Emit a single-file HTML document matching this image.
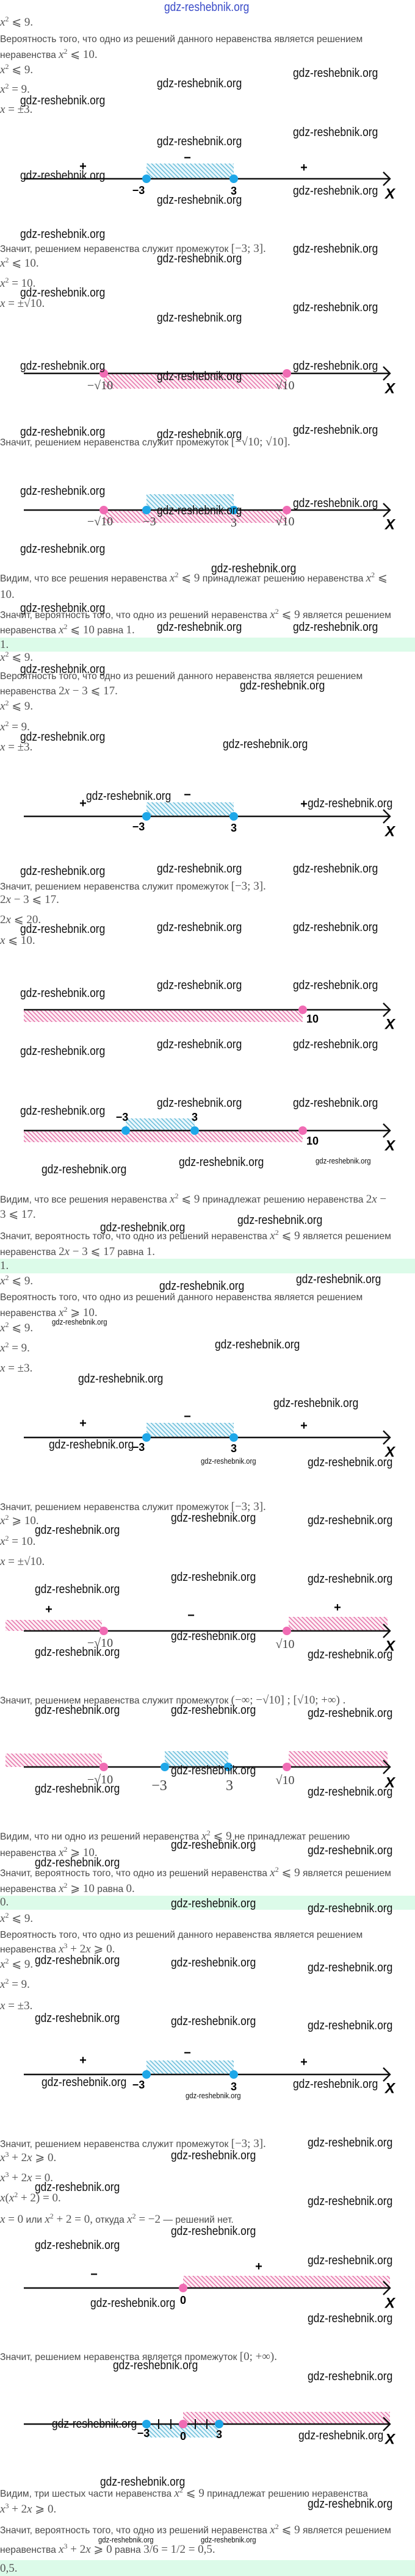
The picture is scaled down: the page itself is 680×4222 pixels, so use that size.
<!DOCTYPE html>
<html><head><meta charset="utf-8">
<style>
html,body{margin:0;padding:0;background:#fff;}
body{width:680px;height:4222px;position:relative;overflow:hidden;font-family:"Liberation Sans",sans-serif;}
.t{position:absolute;left:0;height:22px;line-height:22px;font-size:15.6px;color:#4a4a4a;white-space:nowrap;}
.m{font-family:"Liberation Serif",serif;font-size:19px;color:#555;}
.i{font-style:italic;}
sup{font-size:12px;vertical-align:7px;line-height:0;}
.band{position:absolute;left:0;width:680px;background:#dcfbe9;}
.w{position:absolute;font-size:20px;line-height:24px;height:24px;color:#111;white-space:nowrap;transform:scaleX(.87);transform-origin:left center;}
.s{font-size:13px;line-height:16px;height:16px;}
svg{position:absolute;left:0;top:0;}
</style></head><body>

<div class="band" style="top:1045px;height:23px"></div>
<div class="band" style="top:2063px;height:24px"></div>
<div class="band" style="top:3107px;height:23px"></div>
<div class="band" style="top:4196px;height:26px"></div>

<!-- text lines -->
<div class="t" style="top:26px"><span class="m"><span class="i">x</span><sup>2</sup> ⩽ 9.</span></div>
<div class="t" style="top:54px">Вероятность того, что одно из решений данного неравенства является решением</div>
<div class="t" style="top:79px">неравенства <span class="m"><span class="i">x</span><sup>2</sup> ⩽ 10.</span></div>
<div class="t" style="top:104px"><span class="m"><span class="i">x</span><sup>2</sup> ⩽ 9.</span></div>
<div class="t" style="top:136px"><span class="m"><span class="i">x</span><sup>2</sup> = 9.</span></div>
<div class="t" style="top:169px"><span class="m"><span class="i">x</span> = ±3.</span></div>
<div class="t" style="top:397px">Значит, решением неравенства служит промежуток <span class="m">[−3; 3].</span></div>
<div class="t" style="top:421px"><span class="m"><span class="i">x</span><sup>2</sup> ⩽ 10.</span></div>
<div class="t" style="top:454px"><span class="m"><span class="i">x</span><sup>2</sup> = 10.</span></div>
<div class="t" style="top:487px"><span class="m"><span class="i">x</span> = ±√10.</span></div>
<div class="t" style="top:714px">Значит, решением неравенства служит промежуток <span class="m">[−√10; √10].</span></div>
<div class="t" style="top:937px">Видим, что все решения неравенства <span class="m"><span class="i">x</span><sup>2</sup> ⩽ 9</span> принадлежат решению неравенства <span class="m"><span class="i">x</span><sup>2</sup> ⩽</span></div>
<div class="t" style="top:964px"><span class="m">10.</span></div>
<div class="t" style="top:997px">Значит, вероятность того, что одно из решений неравенства <span class="m"><span class="i">x</span><sup>2</sup> ⩽ 9</span> является решением</div>
<div class="t" style="top:1022px">неравенства <span class="m"><span class="i">x</span><sup>2</sup> ⩽ 10</span> равна <span class="m">1.</span></div>
<div class="t" style="top:1046px"><span class="m">1.</span></div>
<div class="t" style="top:1067px"><span class="m"><span class="i">x</span><sup>2</sup> ⩽ 9.</span></div>
<div class="t" style="top:1098px">Вероятность того, что одно из решений данного неравенства является решением</div>
<div class="t" style="top:1122px">неравенства <span class="m">2<span class="i">x</span> − 3 ⩽ 17.</span></div>
<div class="t" style="top:1147px"><span class="m"><span class="i">x</span><sup>2</sup> ⩽ 9.</span></div>
<div class="t" style="top:1181px"><span class="m"><span class="i">x</span><sup>2</sup> = 9.</span></div>
<div class="t" style="top:1214px"><span class="m"><span class="i">x</span> = ±3.</span></div>
<div class="t" style="top:1442px">Значит, решением неравенства служит промежуток <span class="m">[−3; 3].</span></div>
<div class="t" style="top:1464px"><span class="m">2<span class="i">x</span> − 3 ⩽ 17.</span></div>
<div class="t" style="top:1497px"><span class="m">2<span class="i">x</span> ⩽ 20.</span></div>
<div class="t" style="top:1531px"><span class="m"><span class="i">x</span> ⩽ 10.</span></div>
<div class="t" style="top:1955px">Видим, что все решения неравенства <span class="m"><span class="i">x</span><sup>2</sup> ⩽ 9</span> принадлежат решению неравенства <span class="m">2<span class="i">x</span> −</span></div>
<div class="t" style="top:1980px"><span class="m">3 ⩽ 17.</span></div>
<div class="t" style="top:2015px">Значит, вероятность того, что одно из решений неравенства <span class="m"><span class="i">x</span><sup>2</sup> ⩽ 9</span> является решением</div>
<div class="t" style="top:2041px">неравенства <span class="m">2<span class="i">x</span> − 3 ⩽ 17</span> равна <span class="m">1.</span></div>
<div class="t" style="top:2064px"><span class="m">1.</span></div>
<div class="t" style="top:2089px"><span class="m"><span class="i">x</span><sup>2</sup> ⩽ 9.</span></div>
<div class="t" style="top:2116px">Вероятность того, что одно из решений данного неравенства является решением</div>
<div class="t" style="top:2141px">неравенства <span class="m"><span class="i">x</span><sup>2</sup> ⩾ 10.</span></div>
<div class="t" style="top:2166px"><span class="m"><span class="i">x</span><sup>2</sup> ⩽ 9.</span></div>
<div class="t" style="top:2199px"><span class="m"><span class="i">x</span><sup>2</sup> = 9.</span></div>
<div class="t" style="top:2232px"><span class="m"><span class="i">x</span> = ±3.</span></div>
<div class="t" style="top:2459px">Значит, решением неравенства служит промежуток <span class="m">[−3; 3].</span></div>
<div class="t" style="top:2482px"><span class="m"><span class="i">x</span><sup>2</sup> ⩾ 10.</span></div>
<div class="t" style="top:2516px"><span class="m"><span class="i">x</span><sup>2</sup> = 10.</span></div>
<div class="t" style="top:2549px"><span class="m"><span class="i">x</span> = ±√10.</span></div>
<div class="t" style="top:2776px">Значит, решением неравенства служит промежуток <span class="m">(−∞; −√10] ; [√10; +∞) .</span></div>
<div class="t" style="top:2999px">Видим, что ни одно из решений неравенства <span class="m"><span class="i">x</span><sup>2</sup> ⩽ 9</span> не принадлежат решению</div>
<div class="t" style="top:3026px">неравенства <span class="m"><span class="i">x</span><sup>2</sup> ⩾ 10.</span></div>
<div class="t" style="top:3059px">Значит, вероятность того, что одно из решений неравенства <span class="m"><span class="i">x</span><sup>2</sup> ⩽ 9</span> является решением</div>
<div class="t" style="top:3085px">неравенства <span class="m"><span class="i">x</span><sup>2</sup> ⩾ 10</span> равна <span class="m">0.</span></div>
<div class="t" style="top:3107px"><span class="m">0.</span></div>
<div class="t" style="top:3134px"><span class="m"><span class="i">x</span><sup>2</sup> ⩽ 9.</span></div>
<div class="t" style="top:3161px">Вероятность того, что одно из решений данного неравенства является решением</div>
<div class="t" style="top:3184px">неравенства <span class="m"><span class="i">x</span><sup>3</sup> + 2<span class="i">x</span> ⩾ 0.</span></div>
<div class="t" style="top:3209px"><span class="m"><span class="i">x</span><sup>2</sup> ⩽ 9.</span></div>
<div class="t" style="top:3242px"><span class="m"><span class="i">x</span><sup>2</sup> = 9.</span></div>
<div class="t" style="top:3277px"><span class="m"><span class="i">x</span> = ±3.</span></div>
<div class="t" style="top:3503px">Значит, решением неравенства служит промежуток <span class="m">[−3; 3].</span></div>
<div class="t" style="top:3526px"><span class="m"><span class="i">x</span><sup>3</sup> + 2<span class="i">x</span> ⩾ 0.</span></div>
<div class="t" style="top:3559px"><span class="m"><span class="i">x</span><sup>3</sup> + 2<span class="i">x</span> = 0.</span></div>
<div class="t" style="top:3592px"><span class="m"><span class="i">x</span>(<span class="i">x</span><sup>2</sup> + 2) = 0.</span></div>
<div class="t" style="top:3627px"><span class="m"><span class="i">x</span> = 0</span> или <span class="m"><span class="i">x</span><sup>2</sup> + 2 = 0,</span> откуда <span class="m"><span class="i">x</span><sup>2</sup> = −2</span> — решений нет.</div>
<div class="t" style="top:3852px">Значит, решением неравенства является промежуток <span class="m">[0; +∞).</span></div>
<div class="t" style="top:4076px">Видим, три шестых части неравенства <span class="m"><span class="i">x</span><sup>2</sup> ⩽ 9</span> принадлежат решению неравенства</div>
<div class="t" style="top:4102px"><span class="m"><span class="i">x</span><sup>3</sup> + 2<span class="i">x</span> ⩾ 0.</span></div>
<div class="t" style="top:4136px">Значит, вероятность того, что одно из решений неравенства <span class="m"><span class="i">x</span><sup>2</sup> ⩽ 9</span> является решением</div>
<div class="t" style="top:4168px">неравенства <span class="m"><span class="i">x</span><sup>3</sup> + 2<span class="i">x</span> ⩾ 0</span> равна <span class="m">3/6 = 1/2 = 0,5.</span></div>
<div class="t" style="top:4199px"><span class="m">0,5.</span></div>

<!-- graphics -->
<svg width="680" height="4222" viewBox="0 0 680 4222">
<defs>
<pattern id="hb" width="5" height="5" patternUnits="userSpaceOnUse" patternTransform="rotate(-45)"><rect width="5" height="5" fill="#eaf7fc"/><line x1="1" y1="0" x2="1" y2="5" stroke="#55b4d4" stroke-width="1.3"/></pattern>
<pattern id="hp" width="5" height="5" patternUnits="userSpaceOnUse" patternTransform="rotate(-45)"><rect width="5" height="5" fill="#fdeef5"/><line x1="1" y1="0" x2="1" y2="5" stroke="#e2609d" stroke-width="1.3"/></pattern>
<g id="ax"><line x1="39" y1="0" x2="638" y2="0" stroke="#111" stroke-width="2.6"/><polyline points="628,-11 639,0 628,11" fill="none" stroke="#111" stroke-width="2.4"/></g>
</defs>
<g font-family="Liberation Sans, sans-serif" text-anchor="middle" dominant-baseline="central">
<!-- NL1 -->
<rect x="240" y="268" width="143" height="25" fill="url(#hb)"/>
<use href="#ax" y="293"/>
<circle cx="240" cy="293" r="7" fill="#1ea7e8"/><circle cx="383" cy="293" r="7" fill="#1ea7e8"/>
<text x="136" y="273" font-size="20" font-weight="bold">+</text><text x="307" y="259" font-size="20" font-weight="bold">−</text><text x="498" y="275" font-size="20" font-weight="bold">+</text>
<text x="227" y="312" font-size="18" font-weight="bold">−3</text><text x="383" y="313" font-size="18" font-weight="bold">3</text>
<text x="639" y="318" font-size="24" font-weight="bold" font-style="italic">X</text>
<!-- NL2 -->
<rect x="170" y="612" width="300" height="25" fill="url(#hp)"/>
<use href="#ax" y="612"/>
<circle cx="170" cy="612" r="7" fill="#f06cb4"/><circle cx="470" cy="612" r="7" fill="#f06cb4"/>
<text x="164" y="632" font-size="20" font-family="Liberation Serif, serif" fill="#444">−√10</text><text x="467" y="632" font-size="20" font-family="Liberation Serif, serif" fill="#444">√10</text>
<text x="639" y="637" font-size="24" font-weight="bold" font-style="italic">X</text>
<!-- NL3 -->
<rect x="240" y="810" width="143" height="26" fill="url(#hb)"/>
<rect x="170" y="836" width="300" height="21" fill="url(#hp)"/>
<use href="#ax" y="836"/>
<circle cx="170" cy="836" r="7" fill="#f06cb4"/><circle cx="470" cy="836" r="7" fill="#f06cb4"/>
<circle cx="240" cy="836" r="7" fill="#1ea7e8"/><circle cx="383" cy="836" r="7" fill="#1ea7e8"/>
<g font-size="20" font-family="Liberation Serif, serif" fill="#444"><text x="164" y="855">−√10</text><text x="245" y="855">−3</text><text x="383" y="857">3</text><text x="467" y="855">√10</text></g>
<text x="639" y="860" font-size="24" font-weight="bold" font-style="italic">X</text>
<!-- NL4 -->
<rect x="240" y="1315" width="143" height="23" fill="url(#hb)"/>
<use href="#ax" y="1338"/>
<circle cx="240" cy="1338" r="7" fill="#1ea7e8"/><circle cx="383" cy="1338" r="7" fill="#1ea7e8"/>
<text x="136" y="1317" font-size="20" font-weight="bold">+</text><text x="307" y="1303" font-size="20" font-weight="bold">−</text><text x="498" y="1318" font-size="20" font-weight="bold">+</text>
<text x="227" y="1355" font-size="18" font-weight="bold">−3</text><text x="383" y="1357" font-size="18" font-weight="bold">3</text>
<text x="639" y="1363" font-size="24" font-weight="bold" font-style="italic">X</text>
<!-- NL5 -->
<rect x="39" y="1655" width="457" height="20" fill="url(#hp)"/>
<use href="#ax" y="1655"/>
<circle cx="496" cy="1655" r="7" fill="#f06cb4"/>
<text x="512" y="1670" font-size="18" font-weight="bold">10</text>
<text x="639" y="1679" font-size="24" font-weight="bold" font-style="italic">X</text>
<!-- NL6 -->
<rect x="206" y="1833" width="113" height="20" fill="url(#hb)"/>
<rect x="39" y="1853" width="457" height="19" fill="url(#hp)"/>
<use href="#ax" y="1853"/>
<circle cx="206" cy="1853" r="7" fill="#1ea7e8"/><circle cx="319" cy="1853" r="7" fill="#1ea7e8"/><circle cx="496" cy="1853" r="7" fill="#f06cb4"/>
<text x="200" y="1831" font-size="18" font-weight="bold">−3</text><text x="319" y="1831" font-size="18" font-weight="bold">3</text>
<text x="512" y="1870" font-size="18" font-weight="bold">10</text>
<text x="639" y="1878" font-size="24" font-weight="bold" font-style="italic">X</text>
<!-- NL7 -->
<rect x="240" y="2332" width="143" height="24" fill="url(#hb)"/>
<use href="#ax" y="2356"/>
<circle cx="240" cy="2356" r="7" fill="#1ea7e8"/><circle cx="383" cy="2356" r="7" fill="#1ea7e8"/>
<text x="136" y="2333" font-size="20" font-weight="bold">+</text><text x="307" y="2322" font-size="20" font-weight="bold">−</text><text x="498" y="2337" font-size="20" font-weight="bold">+</text>
<text x="227" y="2372" font-size="18" font-weight="bold">−3</text><text x="383" y="2374" font-size="18" font-weight="bold">3</text>
<text x="639" y="2380" font-size="24" font-weight="bold" font-style="italic">X</text>
<!-- NL8 -->
<rect x="9" y="2655" width="158" height="18" fill="url(#hp)"/>
<rect x="473" y="2650" width="162" height="23" fill="url(#hp)"/>
<use href="#ax" y="2673"/>
<circle cx="170" cy="2673" r="7" fill="#f06cb4"/><circle cx="470" cy="2673" r="7" fill="#f06cb4"/>
<text x="80" y="2638" font-size="20" font-weight="bold">+</text><text x="313" y="2648" font-size="20" font-weight="bold">−</text><text x="553" y="2635" font-size="20" font-weight="bold">+</text>
<g font-size="20" font-family="Liberation Serif, serif" fill="#444"><text x="164" y="2693">−√10</text><text x="467" y="2695">√10</text></g>
<text x="639" y="2698" font-size="24" font-weight="bold" font-style="italic">X</text>
<!-- NL9 -->
<rect x="9" y="2874" width="158" height="22" fill="url(#hp)"/>
<rect x="270" y="2870" width="104" height="26" fill="url(#hb)"/>
<rect x="473" y="2870" width="162" height="26" fill="url(#hp)"/>
<use href="#ax" y="2896"/>
<circle cx="170" cy="2896" r="7" fill="#f06cb4"/><circle cx="470" cy="2896" r="7" fill="#f06cb4"/>
<circle cx="270" cy="2896" r="7" fill="#1ea7e8"/><circle cx="374" cy="2896" r="7" fill="#1ea7e8"/>
<g font-size="20" font-family="Liberation Serif, serif" fill="#444"><text x="164" y="2917">−√10</text><text x="261" y="2927" font-size="24">−3</text><text x="376" y="2927" font-size="24">3</text><text x="467" y="2918">√10</text></g>
<text x="639" y="2922" font-size="24" font-weight="bold" font-style="italic">X</text>
<!-- NL10 -->
<rect x="240" y="3377" width="143" height="23" fill="url(#hb)"/>
<use href="#ax" y="3400"/>
<circle cx="240" cy="3400" r="7" fill="#1ea7e8"/><circle cx="383" cy="3400" r="7" fill="#1ea7e8"/>
<text x="136" y="3377" font-size="20" font-weight="bold">+</text><text x="307" y="3365" font-size="20" font-weight="bold">−</text><text x="498" y="3380" font-size="20" font-weight="bold">+</text>
<text x="227" y="3417" font-size="18" font-weight="bold">−3</text><text x="383" y="3420" font-size="18" font-weight="bold">3</text>
<text x="639" y="3423" font-size="24" font-weight="bold" font-style="italic">X</text>
<!-- NL11 -->
<rect x="300" y="3730" width="339" height="20" fill="url(#hp)"/>
<use href="#ax" y="3750"/>
<circle cx="300" cy="3750" r="7" fill="#f06cb4"/>
<text x="154" y="3728" font-size="20" font-weight="bold">−</text><text x="424" y="3715" font-size="20" font-weight="bold">+</text>
<text x="300" y="3770" font-size="18" font-weight="bold">0</text>
<text x="639" y="3775" font-size="24" font-weight="bold" font-style="italic">X</text>
<!-- NL12 -->
<rect x="300" y="3953" width="339" height="20" fill="url(#hp)"/>
<rect x="240" y="3973" width="119" height="22" fill="url(#hb)"/>
<use href="#ax" y="3973"/>
<g stroke="#111" stroke-width="2"><line x1="260" y1="3965" x2="260" y2="3981"/><line x1="280" y1="3965" x2="280" y2="3981"/><line x1="320" y1="3965" x2="320" y2="3981"/><line x1="339" y1="3965" x2="339" y2="3981"/></g>
<circle cx="240" cy="3973" r="7" fill="#1ea7e8"/><circle cx="359" cy="3973" r="7" fill="#1ea7e8"/><circle cx="300" cy="3973" r="7" fill="#f06cb4"/>
<text x="235" y="3988" font-size="18" font-weight="bold">−3</text><text x="300" y="3993" font-size="18" font-weight="bold">0</text><text x="359" y="3990" font-size="18" font-weight="bold">3</text>
<text x="639" y="3998" font-size="24" font-weight="bold" font-style="italic">X</text>
</g>
</svg>

<!-- watermarks -->
<div class="w" style="left:269px;top:0px;color:#3b4cc8">gdz-reshebnik.org</div>
<div class="w" style="left:480px;top:108px">gdz-reshebnik.org</div>
<div class="w" style="left:257px;top:125px">gdz-reshebnik.org</div>
<div class="w" style="left:33px;top:153px">gdz-reshebnik.org</div>
<div class="w" style="left:480px;top:205px">gdz-reshebnik.org</div>
<div class="w" style="left:257px;top:220px">gdz-reshebnik.org</div>
<div class="w" style="left:33px;top:276px">gdz-reshebnik.org</div>
<div class="w" style="left:480px;top:301px">gdz-reshebnik.org</div>
<div class="w" style="left:257px;top:316px">gdz-reshebnik.org</div>
<div class="w" style="left:33px;top:372px">gdz-reshebnik.org</div>
<div class="w" style="left:480px;top:396px">gdz-reshebnik.org</div>
<div class="w" style="left:257px;top:412px">gdz-reshebnik.org</div>
<div class="w" style="left:33px;top:468px">gdz-reshebnik.org</div>
<div class="w" style="left:480px;top:492px">gdz-reshebnik.org</div>
<div class="w" style="left:257px;top:509px">gdz-reshebnik.org</div>
<div class="w" style="left:33px;top:588px">gdz-reshebnik.org</div>
<div class="w" style="left:480px;top:588px">gdz-reshebnik.org</div>
<div class="w" style="left:257px;top:605px">gdz-reshebnik.org</div>
<div class="w" style="left:33px;top:696px">gdz-reshebnik.org</div>
<div class="w" style="left:257px;top:700px">gdz-reshebnik.org</div>
<div class="w" style="left:480px;top:693px">gdz-reshebnik.org</div>
<div class="w" style="left:33px;top:793px">gdz-reshebnik.org</div>
<div class="w" style="left:480px;top:813px">gdz-reshebnik.org</div>
<div class="w" style="left:257px;top:825px">gdz-reshebnik.org</div>
<div class="w" style="left:33px;top:888px">gdz-reshebnik.org</div>
<div class="w" style="left:346px;top:920px">gdz-reshebnik.org</div>
<div class="w" style="left:33px;top:985px">gdz-reshebnik.org</div>
<div class="w" style="left:257px;top:1016px">gdz-reshebnik.org</div>
<div class="w" style="left:480px;top:1016px">gdz-reshebnik.org</div>
<div class="w" style="left:33px;top:1085px">gdz-reshebnik.org</div>
<div class="w" style="left:393px;top:1112px">gdz-reshebnik.org</div>
<div class="w" style="left:33px;top:1196px">gdz-reshebnik.org</div>
<div class="w" style="left:365px;top:1208px">gdz-reshebnik.org</div>
<div class="w" style="left:141px;top:1293px">gdz-reshebnik.org</div>
<div class="w" style="left:504px;top:1305px">gdz-reshebnik.org</div>
<div class="w" style="left:33px;top:1416px">gdz-reshebnik.org</div>
<div class="w" style="left:257px;top:1412px">gdz-reshebnik.org</div>
<div class="w" style="left:480px;top:1412px">gdz-reshebnik.org</div>
<div class="w" style="left:33px;top:1511px">gdz-reshebnik.org</div>
<div class="w" style="left:257px;top:1508px">gdz-reshebnik.org</div>
<div class="w" style="left:480px;top:1508px">gdz-reshebnik.org</div>
<div class="w" style="left:257px;top:1603px">gdz-reshebnik.org</div>
<div class="w" style="left:480px;top:1603px">gdz-reshebnik.org</div>
<div class="w" style="left:33px;top:1616px">gdz-reshebnik.org</div>
<div class="w" style="left:257px;top:1700px">gdz-reshebnik.org</div>
<div class="w" style="left:480px;top:1700px">gdz-reshebnik.org</div>
<div class="w" style="left:33px;top:1711px">gdz-reshebnik.org</div>
<div class="w" style="left:257px;top:1796px">gdz-reshebnik.org</div>
<div class="w" style="left:480px;top:1796px">gdz-reshebnik.org</div>
<div class="w" style="left:33px;top:1809px">gdz-reshebnik.org</div>
<div class="w" style="left:293px;top:1893px">gdz-reshebnik.org</div>
<div class="w s" style="left:517px;top:1895px">gdz-reshebnik.org</div>
<div class="w" style="left:68px;top:1905px">gdz-reshebnik.org</div>
<div class="w" style="left:389px;top:1988px">gdz-reshebnik.org</div>
<div class="w" style="left:164px;top:2000px">gdz-reshebnik.org</div>
<div class="w" style="left:485px;top:2085px">gdz-reshebnik.org</div>
<div class="w" style="left:261px;top:2096px">gdz-reshebnik.org</div>
<div class="w s" style="left:85px;top:2159px">gdz-reshebnik.org</div>
<div class="w" style="left:352px;top:2192px">gdz-reshebnik.org</div>
<div class="w" style="left:128px;top:2248px">gdz-reshebnik.org</div>
<div class="w" style="left:448px;top:2288px">gdz-reshebnik.org</div>
<div class="w" style="left:80px;top:2356px">gdz-reshebnik.org</div>
<div class="w s" style="left:329px;top:2387px">gdz-reshebnik.org</div>
<div class="w" style="left:504px;top:2385px">gdz-reshebnik.org</div>
<div class="w" style="left:280px;top:2476px">gdz-reshebnik.org</div>
<div class="w" style="left:504px;top:2480px">gdz-reshebnik.org</div>
<div class="w" style="left:57px;top:2496px">gdz-reshebnik.org</div>
<div class="w" style="left:280px;top:2573px">gdz-reshebnik.org</div>
<div class="w" style="left:504px;top:2576px">gdz-reshebnik.org</div>
<div class="w" style="left:57px;top:2593px">gdz-reshebnik.org</div>
<div class="w" style="left:280px;top:2670px">gdz-reshebnik.org</div>
<div class="w" style="left:57px;top:2696px">gdz-reshebnik.org</div>
<div class="w" style="left:504px;top:2700px">gdz-reshebnik.org</div>
<div class="w" style="left:57px;top:2791px">gdz-reshebnik.org</div>
<div class="w" style="left:280px;top:2791px">gdz-reshebnik.org</div>
<div class="w" style="left:504px;top:2796px">gdz-reshebnik.org</div>
<div class="w" style="left:280px;top:2890px">gdz-reshebnik.org</div>
<div class="w" style="left:57px;top:2920px">gdz-reshebnik.org</div>
<div class="w" style="left:504px;top:2925px">gdz-reshebnik.org</div>
<div class="w" style="left:280px;top:3012px">gdz-reshebnik.org</div>
<div class="w" style="left:504px;top:3021px">gdz-reshebnik.org</div>
<div class="w" style="left:57px;top:3041px">gdz-reshebnik.org</div>
<div class="w" style="left:280px;top:3108px">gdz-reshebnik.org</div>
<div class="w" style="left:504px;top:3116px">gdz-reshebnik.org</div>
<div class="w" style="left:57px;top:3201px">gdz-reshebnik.org</div>
<div class="w" style="left:280px;top:3205px">gdz-reshebnik.org</div>
<div class="w" style="left:504px;top:3213px">gdz-reshebnik.org</div>
<div class="w" style="left:57px;top:3296px">gdz-reshebnik.org</div>
<div class="w" style="left:280px;top:3301px">gdz-reshebnik.org</div>
<div class="w" style="left:504px;top:3308px">gdz-reshebnik.org</div>
<div class="w" style="left:68px;top:3401px">gdz-reshebnik.org</div>
<div class="w s" style="left:304px;top:3427px">gdz-reshebnik.org</div>
<div class="w" style="left:480px;top:3404px">gdz-reshebnik.org</div>
<div class="w" style="left:504px;top:3500px">gdz-reshebnik.org</div>
<div class="w" style="left:280px;top:3521px">gdz-reshebnik.org</div>
<div class="w" style="left:57px;top:3573px">gdz-reshebnik.org</div>
<div class="w" style="left:504px;top:3596px">gdz-reshebnik.org</div>
<div class="w" style="left:280px;top:3645px">gdz-reshebnik.org</div>
<div class="w" style="left:57px;top:3668px">gdz-reshebnik.org</div>
<div class="w" style="left:504px;top:3693px">gdz-reshebnik.org</div>
<div class="w" style="left:148px;top:3763px">gdz-reshebnik.org</div>
<div class="w" style="left:504px;top:3788px">gdz-reshebnik.org</div>
<div class="w" style="left:185px;top:3865px">gdz-reshebnik.org</div>
<div class="w" style="left:504px;top:3883px">gdz-reshebnik.org</div>
<div class="w" style="left:85px;top:3961px">gdz-reshebnik.org</div>
<div class="w" style="left:489px;top:3980px">gdz-reshebnik.org</div>
<div class="w" style="left:164px;top:4056px">gdz-reshebnik.org</div>
<div class="w" style="left:504px;top:4092px">gdz-reshebnik.org</div>
<div class="w s" style="left:161px;top:4155px">gdz-reshebnik.org</div>
<div class="w s" style="left:329px;top:4155px">gdz-reshebnik.org</div>

</body></html>
